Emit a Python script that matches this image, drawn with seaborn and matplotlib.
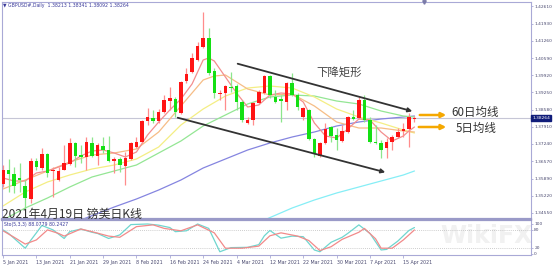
import matplotlib
matplotlib.use("Agg")
import matplotlib.pyplot as plt
import matplotlib.transforms as mtransforms
import seaborn as sns
import pandas as pd
import numpy as np

# ---------------- data ----------------
opens = [1.3568, 1.3623, 1.3607, 1.3591, 1.3560, 1.3510, 1.3658, 1.3630, 1.3685, 1.3619,
         1.3584, 1.3623, 1.3646, 1.3728, 1.3681, 1.3673, 1.3728, 1.3677, 1.3716, 1.3701,
         1.3658, 1.3666, 1.3638, 1.3666, 1.3712, 1.3732, 1.3814, 1.3825, 1.3814, 1.3849,
         1.3892, 1.3899, 1.3845, 1.3970, 1.4005, 1.4052, 1.4102, 1.4137, 1.4009, 1.3919,
         1.3923, 1.3946, 1.3950, 1.3888, 1.3806, 1.3818, 1.3884, 1.3923, 1.3989, 1.3907,
         1.3899, 1.3888, 1.3962, 1.3915, 1.3829, 1.3857, 1.3743, 1.3677, 1.3728, 1.3790,
         1.3759, 1.3736, 1.3771, 1.3829, 1.3825, 1.3896, 1.3818, 1.3732, 1.3728, 1.3708,
         1.3732, 1.3751, 1.3775, 1.3783, 1.38213]
highs = [1.3642, 1.3665, 1.3634, 1.3650, 1.3583, 1.3669, 1.3669, 1.3708, 1.3689, 1.3634,
         1.3634, 1.3720, 1.3747, 1.3731, 1.3720, 1.3751, 1.3751, 1.3728, 1.3751, 1.3755,
         1.3673, 1.3673, 1.3693, 1.3732, 1.3751, 1.3818, 1.3864, 1.3857, 1.3861, 1.3915,
         1.3946, 1.3907, 1.3970, 1.4020, 1.4079, 1.4122, 1.4239, 1.4176, 1.4020, 1.3935,
         1.3954, 1.4005, 1.3958, 1.3896, 1.3829, 1.3888, 1.3935, 1.3993, 1.3993, 1.3935,
         1.3915, 1.3966, 1.4001, 1.3923, 1.3868, 1.3861, 1.3747, 1.3732, 1.3806, 1.3794,
         1.3786, 1.3798, 1.3833, 1.3857, 1.3907, 1.3915, 1.3829, 1.3798, 1.3740, 1.3747,
         1.3759, 1.3786, 1.3806, 1.3845, 1.38341]
lows = [1.3556, 1.3537, 1.3533, 1.3537, 1.3470, 1.3494, 1.3623, 1.3623, 1.3595, 1.3517,
        1.3580, 1.3623, 1.3642, 1.3634, 1.3650, 1.3623, 1.3673, 1.3642, 1.3689, 1.3654,
        1.3611, 1.3615, 1.3564, 1.3662, 1.3708, 1.3728, 1.3798, 1.3806, 1.3806, 1.3845,
        1.3857, 1.3829, 1.3842, 1.3962, 1.4001, 1.4048, 1.4098, 1.3993, 1.3903, 1.3896,
        1.3857, 1.3927, 1.3857, 1.3810, 1.3802, 1.3798, 1.3880, 1.3919, 1.3903, 1.3884,
        1.3810, 1.3857, 1.3911, 1.3857, 1.3818, 1.3740, 1.3673, 1.3673, 1.3724, 1.3732,
        1.3701, 1.3732, 1.3767, 1.3818, 1.3822, 1.3810, 1.3728, 1.3724, 1.3669, 1.3669,
        1.3701, 1.3747, 1.3751, 1.3712, 1.38092]
closes = [1.3623, 1.3607, 1.3560, 1.3584, 1.3513, 1.3658, 1.3634, 1.3685, 1.3611, 1.3623,
          1.3619, 1.3650, 1.3728, 1.3677, 1.3673, 1.3732, 1.3677, 1.3720, 1.3701, 1.3658,
          1.3666, 1.3642, 1.3669, 1.3728, 1.3732, 1.3814, 1.3829, 1.3814, 1.3849, 1.3896,
          1.3903, 1.3849, 1.3966, 1.3997, 1.4059, 1.4106, 1.4137, 1.4001, 1.3923, 1.3923,
          1.3950, 1.3942, 1.3888, 1.3818, 1.3818, 1.3884, 1.3927, 1.3989, 1.3915, 1.3888,
          1.3892, 1.3962, 1.3915, 1.3868, 1.3864, 1.3743, 1.3689, 1.3728, 1.3783, 1.3755,
          1.3740, 1.3775, 1.3829, 1.3822, 1.3896, 1.3818, 1.3732, 1.3728, 1.3701, 1.3732,
          1.3751, 1.3771, 1.3783, 1.3829, 1.38264]

date_tick_idx = [0, 6, 12, 18, 24, 30, 36, 42, 48, 54, 60, 66, 72]
date_tick_labels = ["5 Jan 2021", "13 Jan 2021", "21 Jan 2021", "29 Jan 2021", "8 Feb 2021",
                    "16 Feb 2021", "24 Feb 2021", "4 Mar 2021", "12 Mar 2021", "22 Mar 2021",
                    "30 Mar 2021", "7 Apr 2021", "15 Apr 2021"]

price_ticks = [1.42610, 1.41930, 1.41260, 1.40590, 1.39920, 1.39250, 1.38580,
               1.37910, 1.37240, 1.36570, 1.35890, 1.35220, 1.34550]

ma5_idx = [0, 2, 4, 6, 8, 10, 12, 14, 16, 18, 20, 22, 24, 26, 28, 30, 32, 34, 36, 37, 38,
           40, 42, 44, 46, 48, 50, 52, 54, 56, 58, 60, 62, 64, 66, 68, 70, 72, 73, 74]
ma5 = [1.35914, 1.35797, 1.35797, 1.36109, 1.36187, 1.36343, 1.36499, 1.36772, 1.36967,
       1.37006, 1.36889, 1.36733, 1.36928, 1.37591, 1.38098, 1.38566, 1.38995, 1.39580,
       1.40516, 1.40594, 1.40477, 1.39853, 1.39229, 1.38683, 1.38761, 1.39151, 1.39229,
       1.39190, 1.38878, 1.38059, 1.37552, 1.37474, 1.37825, 1.38215, 1.38176, 1.37708,
       1.37357, 1.37552, 1.37747, 1.37903]
ma10_idx = [0, 4, 8, 12, 16, 20, 24, 28, 32, 36, 38, 40, 44, 48, 52, 56, 60, 64, 68, 72, 74]
ma10 = [1.35485, 1.35836, 1.36187, 1.36538, 1.36811, 1.36889, 1.37045, 1.37708, 1.38722,
        1.39736, 1.39892, 1.39931, 1.39385, 1.39151, 1.39190, 1.38722, 1.38098, 1.37864,
        1.37864, 1.37747, 1.37708]
ma20_idx = [0, 4, 8, 12, 16, 20, 24, 28, 32, 36, 40, 44, 48, 52, 56, 60, 64, 68, 72, 74]
ma20 = [1.34822, 1.35368, 1.35758, 1.36031, 1.36265, 1.36421, 1.36655, 1.37123, 1.37981,
        1.38605, 1.39112, 1.39424, 1.39502, 1.39424, 1.39073, 1.38605, 1.38293, 1.38059,
        1.37786, 1.37669]
ma30_idx = [0, 4, 8, 12, 16, 20, 24, 28, 32, 36, 40, 44, 48, 52, 56, 60, 64, 68, 72, 74]
ma30 = [1.34276, 1.34744, 1.35134, 1.35563, 1.35953, 1.36187, 1.36421, 1.36889, 1.37357,
        1.37942, 1.38371, 1.38800, 1.39073, 1.39151, 1.39112, 1.38917, 1.38800, 1.38527,
        1.38332, 1.38293]
ma60_idx = [14, 20, 24, 28, 32, 36, 40, 44, 48, 52, 56, 60, 64, 68, 72, 74]
ma60 = [1.34276, 1.34783, 1.35095, 1.35446, 1.35836, 1.36304, 1.36655, 1.37006, 1.37279,
        1.37513, 1.37708, 1.37942, 1.38098, 1.38215, 1.38293, 1.38332]
ma120_idx = [47, 52, 56, 60, 64, 68, 72, 74]
ma120 = [1.34276, 1.34744, 1.35056, 1.35329, 1.35563, 1.35797, 1.36031, 1.36187]

stoch_k_idx = [0, 1, 4, 5, 6, 7, 9, 11, 12, 14, 16, 17, 19, 21, 23, 26, 28, 30, 31, 33, 35,
               37, 39, 41, 44, 46, 47, 48, 50, 52, 54, 56, 57, 59, 61, 62, 64, 66, 68, 69,
               71, 73, 74]
stoch_k = [80, 68, 18, 45, 70, 95, 80, 51, 74, 83, 72, 68, 51, 63, 98, 100, 96, 88, 74, 77,
           100, 85, 6, 20, 21, 30, 60, 78, 52, 59, 57, 12, 6, 38, 55, 68, 97, 68, 12, 14,
           42, 78, 88]
stoch_d_idx = [0, 2, 4, 6, 8, 10, 11, 14, 16, 19, 21, 24, 27, 29, 32, 35, 38, 40, 43, 46,
               48, 50, 53, 55, 57, 59, 61, 64, 65, 67, 68, 70, 72, 74]
stoch_d = [77, 55, 32, 46, 80, 68, 59, 83, 74, 59, 55, 91, 97, 85, 77, 97, 70, 18, 18, 25,
           60, 70, 59, 44, 10, 23, 48, 72, 85, 50, 18, 18, 46, 80]

# ---------------- style ----------------
sns.set_theme(style="white")
plt.rcParams['font.family'] = ['Noto Sans CJK SC', 'DejaVu Sans']
plt.rcParams['axes.linewidth'] = 0.8

W, H = 554, 265
fig = plt.figure(figsize=(W / 100, H / 100), dpi=100)
fig.patch.set_facecolor("white")


def fx(x):
    return x / W


def fy(y):
    return 1 - y / H


frame_col = "#a9a9d6"
label_col = "#4a4a70"

ax = fig.add_axes([fx(2), fy(219), fx(529), 217 / H])
ax2 = fig.add_axes([fx(2), fy(255), fx(529), 35 / H])

XL = (-0.18, 94.96)
ax.set_xlim(*XL)
ax2.set_xlim(*XL)
ax.set_ylim(1.34315, 1.42778)
ax2.set_ylim(-5, 113.5)

for a in (ax, ax2):
    a.set_facecolor("none")
    for s in a.spines.values():
        s.set_color(frame_col)
        s.set_linewidth(0.8)
ax.spines['bottom'].set_linewidth(1.6)
ax.spines['bottom'].set_color("#9a9ac8")
ax2.spines['top'].set_linewidth(1.6)
ax2.spines['top'].set_color("#9a9ac8")

# watermark (behind everything)
fig.text(fx(486), fy(236), "WikiFX", fontsize=17, fontweight="bold", color="#f1f1f1",
         ha="center", va="center", family="DejaVu Sans", zorder=-5)

# ---------------- candles ----------------
n = len(closes)
idx = np.arange(n)
o = np.array(opens); c = np.array(closes); h = np.array(highs); l = np.array(lows)
up = c >= o
body_col = np.where(up, "#ff1414", "#14e014")
wick_col = np.where(up, "#ff8c8c", "#8ce68c")
ax.vlines(idx, l, h, colors=wick_col, linewidth=0.9, zorder=3)
bottoms = np.minimum(o, c)
heights = np.maximum(np.abs(c - o), 0.00010)
ax.bar(idx, heights, bottom=bottoms, width=0.64, color=body_col, linewidth=0, zorder=4)

# ---------------- moving averages ----------------
ma_specs = [
    (ma120_idx, ma120, "#86eef6"),
    (ma60_idx, ma60, "#8585e0"),
    (ma30_idx, ma30, "#94e694"),
    (ma20_idx, ma20, "#f4ee84"),
    (ma10_idx, ma10, "#f6bd86"),
    (ma5_idx, ma5, "#f38e8e"),
]
for xi, yv, col in ma_specs:
    df = pd.DataFrame({"i": xi, "v": yv})
    sns.lineplot(data=df, x="i", y="v", ax=ax, color=col, linewidth=0.9, zorder=2,
                 estimator=None, sort=True)

# current price line
ax.axhline(closes[-1], color="#c6c6d6", linewidth=0.8, zorder=1)

# ---------------- price axis ----------------
ax.yaxis.tick_right()
ax.set_yticks(price_ticks)
ax.set_yticklabels([f"{p:.5f}" for p in price_ticks])
ax.tick_params(axis='y', length=1.5, width=0.6, colors=frame_col, labelsize=3.2,
               labelcolor=label_col, pad=0.8, right=True, left=False)
ax.tick_params(axis='x', bottom=False, labelbottom=False)
for t in ax.get_yticklabels():
    t.set_family("DejaVu Sans")
ax.set_xlabel(""); ax.set_ylabel("")

trans = mtransforms.blended_transform_factory(ax.transAxes, ax.transData)
ax.text(1.002, closes[-1], f"{closes[-1]:.5f}", transform=trans, fontsize=3.2,
        color="white", va="center", ha="left", family="DejaVu Sans",
        bbox=dict(boxstyle="square,pad=0.2", fc="#101c7a", ec="#101c7a"), zorder=10)

# chart shift marker
ax.plot([75.7], [1.42778], marker="v", ms=2.5, color="#7a7aa8", clip_on=False, zorder=10)

# ---------------- stochastic ----------------
ax2.axhline(80, color="#bdbdbd", linewidth=0.6, linestyle=(0, (1, 1.5)))
ax2.axhline(20, color="#bdbdbd", linewidth=0.6, linestyle=(0, (1, 1.5)))
dk = pd.DataFrame({"i": stoch_k_idx, "v": stoch_k})
dd = pd.DataFrame({"i": stoch_d_idx, "v": stoch_d})
sns.lineplot(data=dk, x="i", y="v", ax=ax2, color="#6fd6cf", linewidth=0.9, estimator=None)
sns.lineplot(data=dd, x="i", y="v", ax=ax2, color="#f28a8a", linewidth=0.9, estimator=None)
ax2.yaxis.tick_right()
ax2.set_yticks([100, 80, 20, 0])
ax2.set_yticklabels(["100", "80", "20", "0"])
ax2.tick_params(axis='y', length=1.5, width=0.6, colors=frame_col, labelsize=3.2,
                labelcolor=label_col, pad=0.8, right=True, left=False)
ax2.set_xticks(date_tick_idx)
ax2.set_xticklabels(date_tick_labels)
ax2.tick_params(axis='x', length=2, width=0.6, colors=frame_col, labelsize=3.4,
                labelcolor=label_col, pad=1.5, bottom=True)
for t in ax2.get_xticklabels():
    t.set_ha("left")
    t.set_family("DejaVu Sans")
for t in ax2.get_yticklabels():
    t.set_family("DejaVu Sans")
ax2.set_xlabel(""); ax2.set_ylabel("")

ax2.text(0.004, 0.93, "Sto(5,3,3) 88.0779 80.2427", transform=ax2.transAxes,
         fontsize=3.3, color="#3a3a9a", va="top", ha="left", family="DejaVu Sans")

# ---------------- header & annotations ----------------
fig.text(fx(3), fy(5.5), "▼ GBPUSD#,Daily  1.38213 1.38341 1.38092 1.38264", fontsize=3.3,
         color="#3a3a9a", ha="left", va="center", family="DejaVu Sans")

fig.text(fx(2), fy(214.5), "2021年4月19日 镑美日K线", fontsize=8.6, color="#333333",
         ha="left", va="center")
fig.text(fx(339.5), fy(72), "下降矩形", fontsize=8.2, color="#444444",
         ha="center", va="center")
fig.text(fx(451), fy(112.5), "60日均线", fontsize=8.3, color="#333333",
         ha="left", va="center")
fig.text(fx(456), fy(128), "5日均线", fontsize=8.3, color="#333333",
         ha="left", va="center")


def arrow(x0, y0, x1, y1, col, lw, ms):
    fig.add_artist(matplotlib.patches.FancyArrowPatch(
        (fx(x0), fy(y0)), (fx(x1), fy(y1)), transform=fig.transFigure,
        arrowstyle="-|>", mutation_scale=ms, color=col, linewidth=lw, zorder=20))


arrow(235, 63, 415, 112, "#333333", 1.3, 6)
arrow(175, 117, 388, 173, "#333333", 1.3, 6)
arrow(417, 115, 449, 115, "#f5a800", 1.8, 7)
arrow(416, 127, 449, 127, "#f5a800", 1.8, 7)

fig.savefig("out.png", dpi=100, facecolor="white")
